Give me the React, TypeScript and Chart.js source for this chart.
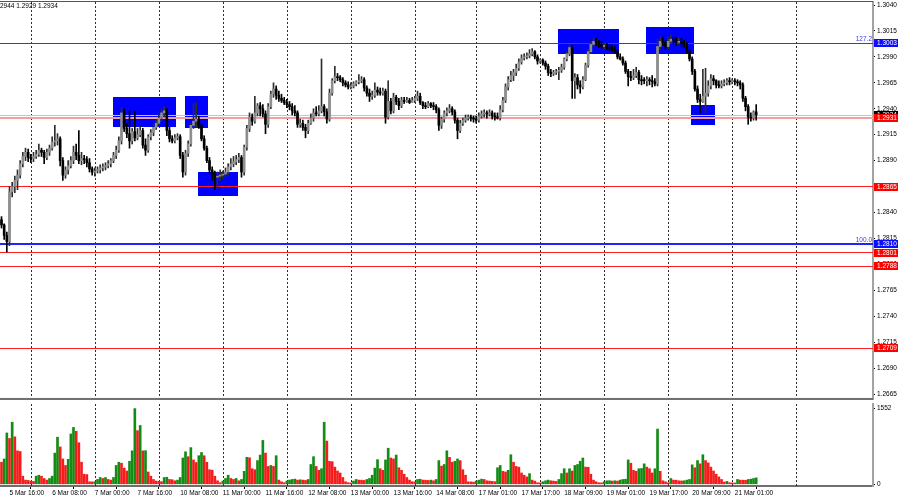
import React, { useEffect, useRef } from 'react';
import { Chart, registerables } from 'chart.js';

Chart.register(...registerables);

// ---------- data (H1 bars) ----------
const firstOpen = 1.2833;
const closes = [
  1.2828, 1.2818, 1.2812, 1.2860, 1.2865, 1.2871, 1.2876, 1.2887, 1.2894, 1.2898,
  1.2893, 1.2892, 1.2894, 1.2896, 1.2900, 1.2898, 1.2893, 1.2898, 1.2902, 1.2908,
  1.2909, 1.2911, 1.2890, 1.2876, 1.2881, 1.2885, 1.2890, 1.2898, 1.2895, 1.2890,
  1.2892, 1.2891, 1.2888, 1.2882, 1.2879, 1.2880, 1.2881, 1.2883, 1.2884, 1.2885,
  1.2887, 1.2890, 1.2895, 1.2900, 1.2909, 1.2936, 1.2921, 1.2916, 1.2909, 1.2918,
  1.2912, 1.2915, 1.2919, 1.2905, 1.2900, 1.2913, 1.2917, 1.2922, 1.2926, 1.2931,
  1.2936, 1.2938, 1.2919, 1.2911, 1.2909, 1.2912, 1.2913, 1.2895, 1.2879, 1.2897,
  1.2906, 1.2924, 1.2928, 1.2930, 1.2924, 1.2911, 1.2902, 1.2890, 1.2881, 1.2876,
  1.2874, 1.2875, 1.2876, 1.2877, 1.2879, 1.2884, 1.2887, 1.2889, 1.2891, 1.2893,
  1.2879, 1.2903, 1.2921, 1.2932, 1.2928, 1.2936, 1.2943, 1.2940, 1.2935, 1.2925,
  1.2942, 1.2954, 1.2959, 1.2953, 1.2950, 1.2948, 1.2946, 1.2944, 1.2942, 1.2938,
  1.2936, 1.2925, 1.2926, 1.2922, 1.2919, 1.2926, 1.2931, 1.2936, 1.2935, 1.2938,
  1.2942, 1.2937, 1.2930, 1.2955, 1.2967, 1.2971, 1.2970, 1.2968, 1.2965, 1.2963,
  1.2961, 1.2962, 1.2964, 1.2966, 1.2967, 1.2968, 1.2960, 1.2955, 1.2952, 1.2953,
  1.2958, 1.2956, 1.2955, 1.2957, 1.2932, 1.2947, 1.2938, 1.2951, 1.2947, 1.2943,
  1.2948, 1.2947, 1.2948, 1.2946, 1.2948, 1.2950, 1.2952, 1.2946, 1.2943, 1.2942,
  1.2945, 1.2943, 1.2942, 1.2939, 1.2924, 1.2930, 1.2936, 1.2938, 1.2940, 1.2937,
  1.2929, 1.2919, 1.2926, 1.2929, 1.2931, 1.2932, 1.2931, 1.2930, 1.2929, 1.2933,
  1.2935, 1.2936, 1.2935, 1.2936, 1.2933, 1.2932, 1.2931, 1.2939, 1.2948, 1.2961,
  1.2968, 1.2972, 1.2975, 1.2979, 1.2985, 1.2989, 1.2990, 1.2991, 1.2993, 1.2995,
  1.2990, 1.2986, 1.2987, 1.2984, 1.2981, 1.2975, 1.2974, 1.2975, 1.2976, 1.2977,
  1.2980, 1.2988, 1.2993, 1.2999, 1.2967, 1.2970, 1.2963, 1.2961, 1.2968, 1.2982,
  1.2995, 1.3002, 1.3005, 1.3004, 1.3002, 1.3000, 1.3001, 1.2999, 1.2998, 1.2997,
  1.2995, 1.2990, 1.2988, 1.2984, 1.2976, 1.2971, 1.2970, 1.2972, 1.2975, 1.2968,
  1.2967, 1.2967, 1.2968, 1.2967, 1.2966, 1.2964, 1.3000, 1.3005, 1.3004, 1.3000,
  1.3005, 1.3007, 1.3006, 1.3004, 1.3005, 1.3003, 1.3002, 1.2995, 1.2988, 1.2976,
  1.2959, 1.2949, 1.2947, 1.2952, 1.2955, 1.2962, 1.2969, 1.2967, 1.2963, 1.2962,
  1.2964, 1.2965, 1.2967, 1.2966, 1.2967, 1.2966, 1.2965, 1.2963, 1.2950, 1.2942,
  1.2932, 1.2931, 1.2937, 1.2934,
];
const highs = [
  1.2836, 1.2829, 1.2821, 1.2865, 1.2869, 1.2875, 1.2881, 1.2890, 1.2898, 1.2902,
  1.2901, 1.2896, 1.2898, 1.2900, 1.2906, 1.2902, 1.2900, 1.2901, 1.2905, 1.2913,
  1.2924, 1.2916, 1.2913, 1.2893, 1.2884, 1.2890, 1.2894, 1.2904, 1.2906, 1.2919,
  1.2898, 1.2895, 1.2894, 1.2892, 1.2884, 1.2883, 1.2884, 1.2886, 1.2887, 1.2888,
  1.2890, 1.2892, 1.2898, 1.2904, 1.2913, 1.2941, 1.2940, 1.2926, 1.2938, 1.2921,
  1.2938, 1.2921, 1.2923, 1.2921, 1.2911, 1.2915, 1.2920, 1.2925, 1.2929, 1.2934,
  1.2940, 1.2942, 1.2940, 1.2922, 1.2914, 1.2915, 1.2916, 1.2915, 1.2898, 1.2900,
  1.2909, 1.2926, 1.2945, 1.2946, 1.2933, 1.2926, 1.2914, 1.2904, 1.2893, 1.2884,
  1.2880, 1.2879, 1.2881, 1.2880, 1.2883, 1.2887, 1.2892, 1.2894, 1.2895, 1.2897,
  1.2895, 1.2905, 1.2924, 1.2936, 1.2935, 1.2952, 1.2945, 1.2946, 1.2944, 1.2938,
  1.2945, 1.2957, 1.2965, 1.2962, 1.2957, 1.2954, 1.2951, 1.2949, 1.2947, 1.2945,
  1.2943, 1.2938, 1.2930, 1.2929, 1.2925, 1.2929, 1.2935, 1.2940, 1.2942, 1.2943,
  1.2988, 1.2944, 1.2940, 1.2959, 1.2969, 1.2981, 1.2974, 1.2972, 1.2970, 1.2967,
  1.2966, 1.2965, 1.2966, 1.2967, 1.2973, 1.2971, 1.2970, 1.2962, 1.2959, 1.2957,
  1.2965, 1.2961, 1.2960, 1.2960, 1.2959, 1.2967, 1.2950, 1.2955, 1.2953, 1.2950,
  1.2951, 1.2951, 1.2951, 1.2950, 1.2951, 1.2952, 1.2957, 1.2955, 1.2947, 1.2946,
  1.2947, 1.2946, 1.2946, 1.2944, 1.2941, 1.2932, 1.2938, 1.2941, 1.2944, 1.2942,
  1.2939, 1.2931, 1.2929, 1.2931, 1.2934, 1.2934, 1.2934, 1.2933, 1.2933, 1.2936,
  1.2938, 1.2939, 1.2938, 1.2939, 1.2938, 1.2936, 1.2936, 1.2943, 1.2951, 1.2964,
  1.2971, 1.2976, 1.2978, 1.2983, 1.2988, 1.2992, 1.2993, 1.2994, 1.2997, 1.2998,
  1.2996, 1.2992, 1.2988, 1.2988, 1.2986, 1.2983, 1.2978, 1.2977, 1.2978, 1.2980,
  1.2983, 1.2989, 1.2995, 1.3002, 1.3001, 1.2974, 1.2973, 1.2967, 1.2971, 1.2984,
  1.2997, 1.3005, 1.3008, 1.3008, 1.3006, 1.3005, 1.3003, 1.3003, 1.3002, 1.3001,
  1.3000, 1.2997, 1.2993, 1.2990, 1.2986, 1.2978, 1.2976, 1.2978, 1.2980, 1.2977,
  1.2972, 1.2970, 1.2971, 1.2970, 1.2972, 1.2969, 1.3007, 1.3009, 1.3009, 1.3006,
  1.3009, 1.3011, 1.3009, 1.3009, 1.3008, 1.3008, 1.3006, 1.3004, 1.2997, 1.2990,
  1.2978, 1.2962, 1.2954, 1.2978, 1.2979, 1.2967, 1.2973, 1.2972, 1.2968, 1.2967,
  1.2967, 1.2968, 1.2969, 1.2970, 1.2969, 1.2969, 1.2968, 1.2967, 1.2965, 1.2952,
  1.2944, 1.2936, 1.2938, 1.2944,
];
const lows = [
  1.2825, 1.2814, 1.2802, 1.2808, 1.2855, 1.2859, 1.2862, 1.2873, 1.2884, 1.2890,
  1.2889, 1.2888, 1.2889, 1.2892, 1.2894, 1.2894, 1.2887, 1.2891, 1.2895, 1.2900,
  1.2904, 1.2905, 1.2885, 1.2871, 1.2873, 1.2877, 1.2883, 1.2887, 1.2891, 1.2887,
  1.2886, 1.2887, 1.2884, 1.2879, 1.2876, 1.2875, 1.2878, 1.2878, 1.2880, 1.2881,
  1.2883, 1.2884, 1.2888, 1.2892, 1.2898, 1.2906, 1.2918, 1.2912, 1.2902, 1.2906,
  1.2909, 1.2910, 1.2913, 1.2902, 1.2895, 1.2898, 1.2910, 1.2914, 1.2920, 1.2924,
  1.2928, 1.2932, 1.2914, 1.2908, 1.2907, 1.2907, 1.2910, 1.2892, 1.2874, 1.2876,
  1.2894, 1.2904, 1.2921, 1.2922, 1.2921, 1.2909, 1.2900, 1.2888, 1.2878, 1.2871,
  1.2862, 1.2863, 1.2871, 1.2872, 1.2874, 1.2876, 1.2881, 1.2884, 1.2886, 1.2888,
  1.2874, 1.2876, 1.2900, 1.2918, 1.2924, 1.2926, 1.2933, 1.2933, 1.2932, 1.2916,
  1.2922, 1.2940, 1.2951, 1.2949, 1.2947, 1.2946, 1.2944, 1.2941, 1.2939, 1.2934,
  1.2933, 1.2922, 1.2922, 1.2919, 1.2912, 1.2916, 1.2925, 1.2928, 1.2933, 1.2933,
  1.2936, 1.2933, 1.2926, 1.2928, 1.2953, 1.2965, 1.2967, 1.2966, 1.2962, 1.2961,
  1.2959, 1.2959, 1.2960, 1.2962, 1.2964, 1.2965, 1.2957, 1.2952, 1.2947, 1.2949,
  1.2951, 1.2953, 1.2953, 1.2953, 1.2926, 1.2930, 1.2935, 1.2936, 1.2944, 1.2939,
  1.2941, 1.2945, 1.2946, 1.2945, 1.2946, 1.2946, 1.2948, 1.2944, 1.2940, 1.2940,
  1.2941, 1.2941, 1.2939, 1.2936, 1.2919, 1.2921, 1.2927, 1.2933, 1.2936, 1.2934,
  1.2926, 1.2911, 1.2917, 1.2924, 1.2927, 1.2929, 1.2928, 1.2927, 1.2926, 1.2927,
  1.2931, 1.2932, 1.2931, 1.2933, 1.2930, 1.2929, 1.2930, 1.2929, 1.2937, 1.2946,
  1.2958, 1.2966, 1.2967, 1.2972, 1.2977, 1.2983, 1.2987, 1.2988, 1.2989, 1.2991,
  1.2988, 1.2983, 1.2984, 1.2982, 1.2978, 1.2972, 1.2971, 1.2972, 1.2973, 1.2968,
  1.2975, 1.2978, 1.2986, 1.2991, 1.2950, 1.2950, 1.2959, 1.2955, 1.2959, 1.2967,
  1.2980, 1.2993, 1.3000, 1.3001, 1.2999, 1.2998, 1.2998, 1.2997, 1.2996, 1.2995,
  1.2993, 1.2988, 1.2987, 1.2982, 1.2974, 1.2962, 1.2967, 1.2968, 1.2970, 1.2964,
  1.2963, 1.2964, 1.2962, 1.2963, 1.2961, 1.2962, 1.2962, 1.2997, 1.3001, 1.2997,
  1.2998, 1.3003, 1.3002, 1.3001, 1.3002, 1.3000, 1.2999, 1.2993, 1.2986, 1.2973,
  1.2957, 1.2946, 1.2936, 1.2946, 1.2936, 1.2952, 1.2959, 1.2963, 1.2960, 1.2960,
  1.2960, 1.2962, 1.2963, 1.2963, 1.2964, 1.2963, 1.2962, 1.2959, 1.2947, 1.2938,
  1.2925, 1.2928, 1.2929, 1.2929,
];
const volumes = [
  453, 520, 1053, 940, 1273, 973, 687, 673, 167, 87,
  80, 67, 60, 167, 187, 167, 120, 87, 120, 167,
  640, 967, 767, 520, 387, 513, 1033, 1167, 1087, 853,
  453, 207, 200, 53, 50, 53, 100, 140, 120, 140,
  100, 87, 140, 387, 453, 433, 333, 273, 473, 687,
  1552, 1100, 1207, 687, 690, 253, 167, 100, 67, 60,
  55, 140, 145, 100, 95, 73, 87, 140, 540, 667,
  567, 753, 500, 447, 587, 653, 587, 453, 300, 290,
  167, 73, 33, 67, 120, 187, 120, 100, 120, 73,
  100, 267, 553, 545, 320, 300, 487, 600, 900, 640,
  367, 387, 367, 587, 87, 53, 33, 67, 87, 100,
  107, 87, 93, 87, 80, 100, 407, 567, 367, 287,
  320, 1273, 887, 473, 465, 353, 273, 233, 140, 53,
  33, 30, 67, 100, 87, 85, 80, 100, 120, 187,
  333, 507, 320, 287, 500, 740, 540, 520, 600, 340,
  287, 207, 140, 87, 53, 50, 100, 105, 87, 85,
  80, 87, 73, 100, 487, 373, 407, 687, 553, 453,
  473, 520, 487, 300, 187, 53, 50, 45, 67, 87,
  107, 100, 73, 67, 60, 55, 340, 387, 267, 253,
  287, 607, 453, 367, 353, 233, 187, 153, 220, 87,
  67, 33, 30, 53, 73, 87, 73, 67, 60, 100,
  220, 320, 233, 320, 273, 387, 407, 473, 540, 353,
  350, 207, 87, 53, 33, 30, 53, 73, 75, 67,
  73, 67, 87, 100, 105, 500, 433, 287, 267, 320,
  325, 420, 353, 320, 233, 320, 1133, 267, 73, 53,
  33, 120, 87, 85, 73, 70, 73, 87, 100, 400,
  340, 487, 420, 607, 487, 440, 353, 273, 207, 153,
  100, 46, 60, 33, 30, 27, 100, 87, 85, 83,
  100, 107, 120, 133,
];

const timeLabels = [
  '5 Mar 16:00', '6 Mar 08:00', '7 Mar 00:00', '7 Mar 16:00', '10 Mar 08:00', '11 Mar 00:00',
  '11 Mar 16:00', '12 Mar 08:00', '13 Mar 00:00', '13 Mar 16:00', '14 Mar 08:00', '17 Mar 01:00',
  '17 Mar 17:00', '18 Mar 09:00', '19 Mar 01:00', '19 Mar 17:00', '20 Mar 09:00', '21 Mar 01:00',
];
const timeLabelIndex = [3, 19, 35, 51, 67, 83, 99, 115, 131, 147, 163, 179, 195, 211, 227, 243, 259, 275];
const dayGridIndex = [11, 35, 59, 83, 107, 131, 155, 178, 202, 226, 250, 274, 298];
const priceTicks = [
  1.304, 1.3015, 1.299, 1.2965, 1.294, 1.2915, 1.289, 1.2865,
  1.284, 1.2815, 1.279, 1.2765, 1.274, 1.2715, 1.269, 1.2665,
];
const volumeTicks = [1552, 0];

const levelPrices = [1.3003, 1.2931, 1.2865, 1.281, 1.2801, 1.2788, 1.2709];
const levelColors = ['#3333ff', '#f59c9c', '#ff1e1e', '#2222ff', '#ff1e1e', '#ff1e1e', '#ff1e1e'];
const levelWidths = [1, 2, 1, 2, 1, 1, 1];
const levelBoxColors = ['#0c0cff', '#ff0000', '#ff0000', '#0c0cff', '#ff0000', '#ff0000', '#ff0000'];
const fiboPrices = [1.3003, 1.281];
const fiboLabels = ['127.2', '100.0'];
const bidPrice = 1.2934;
const headerText = 'GBPUSD,H1  1.2937 1.2944 1.2929 1.2934';
const headerHidden = 'GBPUSD,H1  1.2937 1.';

const zoneStart = [41.7, 68.7, 73.7, 208.7, 241.6, 258.5];
const zoneEnd = [65.5, 77.5, 88.6, 231.7, 259.7, 267.6];
const zoneHigh = [1.2951, 1.2952, 1.2879, 1.3017, 1.3019, 1.2944];
const zoneLow = [1.2922, 1.2921, 1.2856, 1.2993, 1.2993, 1.2925];

// ---------- view settings ----------
const X_MIN = -0.5625;
const X_MAX = 326.8;
const P_MAX = 1.3042863;
const P_MIN = 1.2659275;
const V_MAX = 1646;
const V_MIN = -34;
const FONT = '"Liberation Sans", Arial, sans-serif';
const AXIS_W = 27;

function drawDashedGrid(chart: any) {
  const { ctx, chartArea: a, scales } = chart;
  ctx.save();
  ctx.strokeStyle = '#2a2a2a';
  ctx.lineWidth = 1;
  ctx.setLineDash([2, 2]);
  dayGridIndex.forEach((i) => {
    const px = Math.round(scales.x.getPixelForValue(i)) + 0.5;
    if (px > a.right) return;
    ctx.beginPath();
    ctx.moveTo(px, a.top);
    ctx.lineTo(px, a.bottom);
    ctx.stroke();
  });
  ctx.restore();
}

const pricePlugin = {
  id: 'mt4Price',
  beforeDatasetsDraw(chart: any) {
    const { ctx, chartArea: a, scales } = chart;
    const { x, y } = scales;
    drawDashedGrid(chart);
    ctx.save();
    ctx.setLineDash([]);
    ctx.globalAlpha = 1;
    // zones
    ctx.fillStyle = '#0000ff';
    zoneStart.forEach((s, k) => {
      const x0 = x.getPixelForValue(s);
      const x1 = x.getPixelForValue(zoneEnd[k]);
      const y0 = y.getPixelForValue(zoneHigh[k]);
      const y1 = y.getPixelForValue(zoneLow[k]);
      ctx.fillRect(Math.round(x0), Math.round(y0), Math.round(x1 - x0), Math.round(y1 - y0));
    });
    // bid line
    ctx.fillStyle = '#c4c4c4';
    const by = Math.round(y.getPixelForValue(bidPrice));
    ctx.fillRect(a.left, by, a.right - a.left, 1);
    // horizontal levels (solid pixel rows)
    levelPrices.forEach((p, k) => {
      const w = levelWidths[k];
      const py = Math.round(y.getPixelForValue(p) - w / 2);
      ctx.fillStyle = levelColors[k];
      ctx.fillRect(a.left, py, a.right - a.left, w);
    });
    ctx.restore();
  },
  afterDraw(chart: any) {
    const { ctx, chartArea: a, scales } = chart;
    const { y } = scales;
    ctx.save();
    ctx.font = `6.5px ${FONT}`;
    ctx.textBaseline = 'middle';
    // price boxes on the axis
    const box = (p: number, bg: string) => {
      const py = Math.round(y.getPixelForValue(p));
      ctx.fillStyle = bg;
      ctx.fillRect(a.right + 1, py - 4, 24, 8);
      ctx.fillStyle = '#ffffff';
      ctx.textAlign = 'left';
      ctx.fillText(p.toFixed(4), a.right + 4, py + 0.5);
    };
    box(bidPrice, '#000000');
    levelPrices.forEach((p, k) => box(p, levelBoxColors[k]));
    // fibo level texts
    ctx.fillStyle = '#3c3cf0';
    ctx.textAlign = 'right';
    ctx.textBaseline = 'alphabetic';
    fiboPrices.forEach((p, k) => {
      const py = y.getPixelForValue(p);
      ctx.fillText(fiboLabels[k], a.right - 1, py - 2);
    });
    // header (partly outside the window, as in the screenshot)
    ctx.fillStyle = '#000000';
    ctx.textAlign = 'left';
    ctx.textBaseline = 'middle';
    const cut = ctx.measureText(headerHidden).width;
    ctx.fillText(headerText, -cut, 6.5);
    // borders
    ctx.fillStyle = '#555555';
    ctx.fillRect(0, 1, a.right, 1);
    ctx.fillStyle = '#6e6e6e';
    ctx.fillRect(0, a.bottom - 2, a.right, 2);
    ctx.restore();
  },
};

const volumePlugin = {
  id: 'mt4Volume',
  beforeDatasetsDraw(chart: any) {
    drawDashedGrid(chart);
  },
};

export default function App() {
  const priceRef = useRef<HTMLCanvasElement>(null);
  const volRef = useRef<HTMLCanvasElement>(null);

  useEffect(() => {
    const opens = closes.map((_, i) => (i === 0 ? firstOpen : closes[i - 1]));
    const idx = closes.map((_, i) => i);
    const bull = idx.map((i) => closes[i] > opens[i]);

    const priceChart = new Chart(priceRef.current as HTMLCanvasElement, {
      type: 'bar',
      data: {
        datasets: [
          {
            label: 'wick',
            data: idx.map((i) => ({ x: i, y: [lows[i], highs[i]] })) as any,
            backgroundColor: idx.map((i) => (bull[i] ? '#2e2e2e' : '#000000')),
            barThickness: 1,
            grouped: false,
            order: 2,
          },
          {
            label: 'body',
            data: idx.map((i) => ({ x: i, y: [opens[i], closes[i]] })) as any,
            backgroundColor: idx.map((i) => (bull[i] ? '#8e8e8e' : '#000000')),
            barThickness: 2,
            minBarLength: 1,
            grouped: false,
            order: 1,
          },
        ],
      },
      options: {
        responsive: false,
        animation: false,
        devicePixelRatio: 1,
        layout: { padding: 0 },
        plugins: { legend: { display: false }, tooltip: { enabled: false } },
        scales: {
          x: { type: 'linear', min: X_MIN, max: X_MAX, offset: false, display: false },
          y: {
            type: 'linear',
            position: 'right',
            min: P_MIN,
            max: P_MAX,
            afterFit: (s: any) => { s.width = AXIS_W; },
            afterBuildTicks: (s: any) => { s.ticks = priceTicks.map((v) => ({ value: v })); },
            ticks: {
              color: '#000',
              padding: 2,
              font: { family: FONT, size: 6.5, lineHeight: 0.01 },
              callback: (v: any) => Number(v).toFixed(4),
            },
            grid: { drawOnChartArea: false, drawTicks: true, tickLength: 2, color: '#000' },
            border: { display: true, color: '#a2a2a2', width: 2 },
          },
        },
      } as any,
      plugins: [pricePlugin],
    });

    const volChart = new Chart(volRef.current as HTMLCanvasElement, {
      type: 'bar',
      data: {
        datasets: [
          {
            label: 'Volumes',
            data: idx.map((i) => ({ x: i, y: volumes[i] })) as any,
            backgroundColor: idx.map((i) => (i > 0 && volumes[i] > volumes[i - 1] ? '#138c13' : '#f51c1c')),
            barThickness: 2,
            grouped: false,
          },
        ],
      },
      options: {
        responsive: false,
        animation: false,
        devicePixelRatio: 1,
        layout: { padding: 0 },
        plugins: { legend: { display: false }, tooltip: { enabled: false } },
        scales: {
          x: {
            type: 'linear',
            min: X_MIN,
            max: X_MAX,
            offset: false,
            position: 'bottom',
            afterFit: (s: any) => { s.height = 14; },
            afterBuildTicks: (s: any) => { s.ticks = timeLabelIndex.map((v) => ({ value: v })); },
            ticks: {
              color: '#000',
              autoSkip: false,
              maxRotation: 0,
              minRotation: 0,
              align: 'start',
              padding: 0,
              font: { family: FONT, size: 6.5 },
              callback: (_v: any, index: number) => timeLabels[index],
            },
            grid: { drawOnChartArea: false, drawTicks: true, tickLength: 3, color: '#000' },
            border: { display: true, color: '#6e6e6e', width: 2 },
          },
          y: {
            type: 'linear',
            position: 'right',
            min: V_MIN,
            max: V_MAX,
            afterFit: (s: any) => { s.width = AXIS_W; },
            afterBuildTicks: (s: any) => { s.ticks = volumeTicks.map((v) => ({ value: v })); },
            ticks: {
              color: '#000',
              padding: 2,
              font: { family: FONT, size: 6.5, lineHeight: 0.01 },
              callback: (v: any) => String(v),
            },
            grid: { drawOnChartArea: false, drawTicks: true, tickLength: 2, color: '#000' },
            border: { display: true, color: '#a2a2a2', width: 2 },
          },
        },
      } as any,
      plugins: [volumePlugin],
    });

    return () => {
      priceChart.destroy();
      volChart.destroy();
    };
  }, []);

  return (
    <div style={{ position: 'fixed', left: 0, top: 0, width: 900, height: 500, background: '#ffffff', overflow: 'hidden' }}>
      <canvas
        ref={priceRef}
        width={900}
        height={402}
        style={{ position: 'absolute', left: 0, top: 0, width: 900, height: 402 }}
      />
      <canvas
        ref={volRef}
        width={900}
        height={98}
        style={{ position: 'absolute', left: 0, top: 402, width: 900, height: 98 }}
      />
    </div>
  );
}
